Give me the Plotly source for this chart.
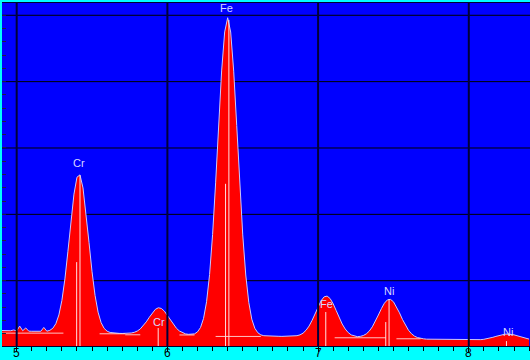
import numpy as np
import plotly.graph_objects as go

# ---- data (EDS spectrum, counts per 0.02 keV channel) ----
E_START = 4.90
E_STEP = 0.02
counts = [
    250, 249, 252, 246, 258, 244, 316, 246, 288, 240,
    238, 241, 236, 238, 296, 239, 252, 284, 353, 484,
    703, 1027, 1444, 1900, 2305, 2560, 2595, 2398, 2026, 1574,
    1135, 778, 526, 369, 282, 239, 220, 212, 207, 206,
    205, 204, 203, 212, 222, 241, 273, 319, 380, 449,
    516, 568, 592, 582, 541, 478, 407, 339, 283, 242,
    215, 199, 192, 191, 199, 229, 295, 432, 683, 1094,
    1697, 2474, 3344, 4161, 4749, 4963, 4748, 4158, 3340, 2469,
    1690, 1086, 674, 421, 283, 216, 184, 171, 167, 164,
    163, 163, 162, 161, 161, 160, 161, 165, 171, 184,
    209, 253, 316, 401, 502, 607, 699, 757, 768, 731,
    653, 551, 444, 347, 272, 218, 183, 165, 157, 161,
    174, 199, 242, 305, 388, 483, 579, 661, 711, 719,
    683, 610, 516, 416, 326, 253, 200, 164, 143, 131,
    124, 119, 118, 117, 116, 115, 114, 113, 112, 111,
    110, 109, 108, 107, 106, 105, 105, 106, 108, 112,
    117, 124, 135, 147, 161, 175, 187, 194, 196, 192,
    184, 171, 156, 142, 130, 120,
]
energy = np.round(E_START + E_STEP * np.arange(len(counts)), 2)

# element line markers (keV, marker height in counts)
line_E = [5.398, 5.420, 5.939, 6.386, 6.408, 7.051, 7.449, 7.471, 8.250]
line_top = [1280, 2590, 287, 2460, 4930, 528, 377, 724, 90]

# background-fit segments (start keV, end keV, level)
bg_start = [4.90, 5.55, 5.72, 6.08, 6.32, 7.11, 7.52]
bg_end = [5.31, 5.72, 5.82, 6.18, 6.62, 7.45, 7.68]
bg_level = [210, 200, 185, 182, 160, 140, 125]

# peak labels
label_text = ["Cr", "Fe", "Cr", "Fe", "Ni", "Ni"]
label_E = [5.413, 6.389, 5.944, 7.058, 7.470, 8.259]
label_y = [2774, 5110, 377, 649, 845, 226]

# axes
x_range = [4.9025, 8.4062]
y_range = [16, 5185]
x_tick_vals = [5, 6, 7, 8]
x_tick_text = ["5", "6", "7", "8"]
x_minor_vals = [round(4.9 + 0.1 * i, 1) for i in range(36)]
y_grid_vals = [1000, 2000, 3000, 4000, 5000]
y_minor_vals = [200 * i for i in range(1, 26)]

BLUE = "#0000FF"
RED = "#FF0000"
CYAN = "#00FFFF"
FONT = "Liberation Sans, Arial, sans-serif"

fig = go.Figure()

# horizontal grid lines (below the spectrum)
for v in y_grid_vals:
    fig.add_hline(y=v, line=dict(color="#000000", width=1), layer="below")

fig.add_trace(go.Scatter(
    x=energy, y=counts, mode="lines", fill="tozeroy",
    fillcolor=RED, line=dict(color="#c8c8ff", width=1),
    hoverinfo="skip", showlegend=False,
))

bx, by = [], []
for s, e, l in zip(bg_start, bg_end, bg_level):
    bx += [s, e, None]
    by += [l, l, None]
fig.add_trace(go.Scatter(x=bx, y=by, mode="lines",
                         line=dict(color="rgba(255,215,215,0.9)", width=1),
                         hoverinfo="skip", showlegend=False))

mx, my = [], []
for e, t in zip(line_E, line_top):
    mx += [e, e, None]
    my += [0, t, None]
fig.add_trace(go.Scatter(x=mx, y=my, mode="lines",
                         line=dict(color="#ffe0e0", width=1),
                         hoverinfo="skip", showlegend=False))

# vertical grid lines (drawn over the spectrum, as in the reference)
for v in x_tick_vals:
    fig.add_vline(x=v, line=dict(color="#000038", width=2), layer="above")

for t, e, yv in zip(label_text, label_E, label_y):
    fig.add_annotation(x=e, y=yv, text=t, showarrow=False,
                       font=dict(family=FONT, size=11, color="#d8d8ff"),
                       xanchor="center", yanchor="middle")

# x tick labels in the cyan band
for v, t in zip(x_tick_vals, x_tick_text):
    fig.add_annotation(x=v, xref="x", y=-0.021, yref="paper", text=t,
                       showarrow=False, xanchor="center", yanchor="middle",
                       height=12, borderpad=0,
                       font=dict(family=FONT, size=12, color="#000000"))

fig.update_layout(
    width=530, height=360,
    margin=dict(l=2, r=0, t=3, b=14, autoexpand=False),
    paper_bgcolor=CYAN, plot_bgcolor=BLUE,
    showlegend=False,
)
fig.update_xaxes(
    range=x_range, tickmode="array", tickvals=x_tick_vals, showticklabels=False,
    showgrid=False, zeroline=False,
    ticks="outside", ticklen=5, tickcolor="#000000", tickwidth=1,
    minor=dict(tickmode="array", tickvals=x_minor_vals, ticks="outside", ticklen=4,
               tickcolor="#000000", showgrid=False),
    showline=True, mirror=True, linecolor="#000030", linewidth=1,
    automargin=False,
)
fig.update_yaxes(
    range=y_range, tickmode="array", tickvals=y_grid_vals, showticklabels=False,
    showgrid=False, zeroline=False,
    ticks="inside", ticklen=4, tickcolor="#202040",
    minor=dict(tickmode="array", tickvals=y_minor_vals, ticks="inside", ticklen=4,
               tickcolor="#202040", showgrid=False),
    showline=False, automargin=False,
)

fig.write_html("out.html")
